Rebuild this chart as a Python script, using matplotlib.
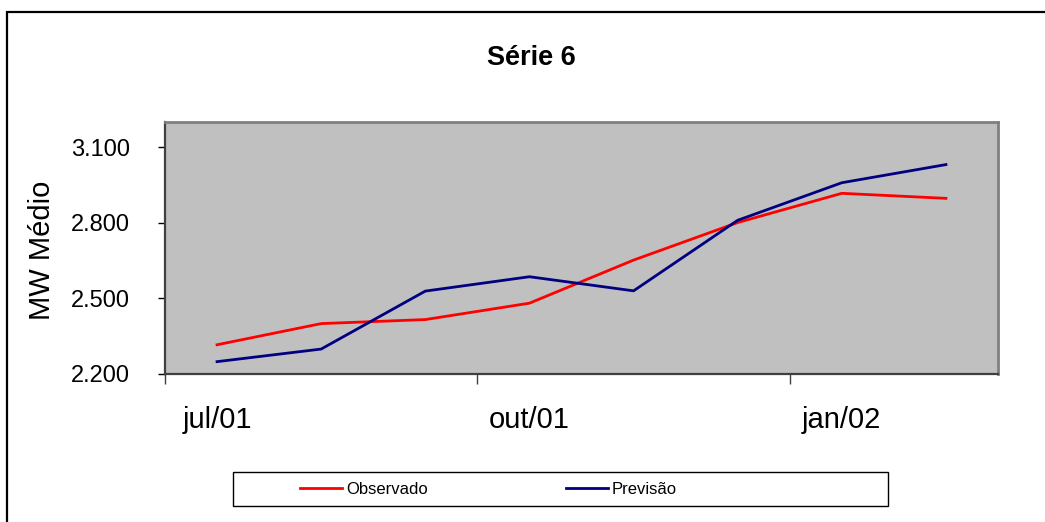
import numpy as np
import matplotlib.pyplot as plt
from matplotlib.patches import Rectangle
from matplotlib.ticker import FuncFormatter

plt.rcParams['font.family'] = ['Liberation Sans', 'DejaVu Sans']

months = ["jul/01", "ago/01", "set/01", "out/01", "nov/01", "dez/01", "jan/02", "fev/02"]
observado = [2316, 2400, 2416, 2481, 2652, 2801, 2917, 2897]
previsao = [2249, 2299, 2529, 2586, 2530, 2810, 2959, 3031]

W, H = 1045, 522
fig = plt.figure(figsize=(W / 100, H / 100), dpi=100)

# plot area in pixel coords
left, right, top, bottom = 165, 998, 122, 374
ax = fig.add_axes([left / W, 1 - bottom / H, (right - left) / W, (bottom - top) / H])
ax.set_facecolor('#C0C0C0')

x = np.arange(len(months))
ax.plot(x, observado, color='#FF0000', lw=2.0, label='Observado')
ax.plot(x, previsao, color='#000080', lw=2.0, label='Previsão')

ax.set_xlim(-0.5, len(months) - 0.5)
ax.set_ylim(2200, 3200)

ax.set_yticks([2200, 2500, 2800, 3100])
ax.yaxis.set_major_formatter(FuncFormatter(lambda v, p: f"{int(v):,}".replace(',', '.')))
ax.tick_params(axis='y', direction='out', length=5, width=1, pad=20,
               labelsize=17, colors='black')

# category axis: tick marks between groups of 3, labels on categories
ax.set_xticks(np.arange(-0.5, len(months), 3))
ax.set_xticklabels([])
ax.set_xticks(x[::3], minor=True)
ax.set_xticklabels(months[::3], minor=True)
ax.tick_params(axis='x', which='major', direction='out', length=7, width=1, color='#404040')
ax.tick_params(axis='x', which='minor', length=0, pad=23, labelsize=21)

for s in ['top', 'right']:
    ax.spines[s].set_color('#808080')
    ax.spines[s].set_linewidth(2)
for s in ['left', 'bottom']:
    ax.spines[s].set_color('#404040')
    ax.spines[s].set_linewidth(1.6)

fig.text(531 / W, 1 - 58 / H, "Série 6", ha='center', va='center',
         fontsize=19.5, fontweight='bold')
fig.text(42 / W, 1 - 250 / H, "MW Médio", ha='center', va='center',
         rotation=90, fontsize=21)

# outer chart border
fig.add_artist(Rectangle((7 / W, -0.1), 1.2, 1.1 - 12 / H, transform=fig.transFigure,
                         fill=False, edgecolor='black', lw=1.6))

# legend box
fig.add_artist(Rectangle((233 / W, 1 - 506 / H), (888 - 233) / W, 34 / H,
                         transform=fig.transFigure, fill=False, edgecolor='black', lw=1.0))
ax.legend(ncol=2, frameon=False, loc='center left',
          bbox_to_anchor=(300 / W, 1 - 489 / H), bbox_transform=fig.transFigure,
          borderpad=0, borderaxespad=0, handlelength=2.5, handletextpad=0.25,
          columnspacing=8.3, fontsize=12)

fig.savefig('out.png', dpi=100)
